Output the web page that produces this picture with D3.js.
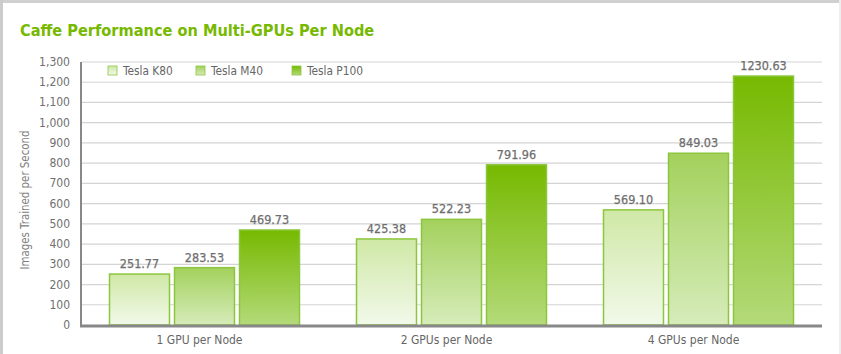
<!DOCTYPE html>
<html>
<head>
<meta charset="utf-8">
<script src="https://cdn.jsdelivr.net/npm/d3@7"></script>
<style>
  body { margin: 0; background: #fff; }
  svg { display: block; font-family: "DejaVu Sans Condensed", "Roboto", sans-serif; }
</style>
</head>
<body>
<div id="chart"></div>
<script>
// data
var groups = ["1 GPU per Node", "2 GPUs per Node", "4 GPUs per Node"];
var series = ["Tesla K80", "Tesla M40", "Tesla P100"];
var k80 = [251.77, 425.38, 569.10];
var m40 = [283.53, 522.23, 849.03];
var p100 = [469.73, 791.96, 1230.63];
var yTicks = d3.range(0, 1301, 100);

var values = [k80, m40, p100];
// gradient stops for each series (top, bottom)
var grads = [["#cfe8a6", "#f2f9ea"], ["#a3d15c", "#d6ecba"], ["#76b900", "#b4da7a"]];

var width = 841, height = 354;
var margin = {top: 62, right: 19, bottom: 29, left: 81};

var svg = d3.select("#chart").append("svg")
    .attr("width", width)
    .attr("height", height);

// frame
svg.append("rect").attr("x", 0).attr("y", 0).attr("width", width).attr("height", 3).attr("fill", "#d0d0d0");
svg.append("rect").attr("x", 0).attr("y", 0).attr("width", 3).attr("height", height).attr("fill", "#cccccc");
svg.append("rect").attr("x", width - 2).attr("y", 0).attr("width", 2).attr("height", height).attr("fill", "#eeeeee");

var defs = svg.append("defs");
grads.forEach(function(g, i) {
  var lg = defs.append("linearGradient").attr("id", "g" + i)
      .attr("x1", 0).attr("y1", 0).attr("x2", 0).attr("y2", 1);
  lg.append("stop").attr("offset", "0%").attr("stop-color", g[0]);
  lg.append("stop").attr("offset", "100%").attr("stop-color", g[1]);
});

svg.append("text")
    .attr("x", 20).attr("y", 36)
    .attr("fill", "#76b900")
    .attr("font-size", 16.2)
    .attr("font-weight", "bold")
    .text("Caffe Performance on Multi-GPUs Per Node");

var x0 = d3.scaleBand().domain(groups)
    .range([margin.left, width - margin.right]).paddingInner(0).paddingOuter(0);
var y = d3.scaleLinear().domain([0, 1300]).range([height - margin.bottom, margin.top]);

// grid
svg.append("g").selectAll("line")
  .data(yTicks.slice(1))
  .enter().append("line")
    .attr("x1", margin.left).attr("x2", width - margin.right)
    .attr("y1", function(d) { return y(d); }).attr("y2", function(d) { return y(d); })
    .attr("stroke", "#d4d4d4").attr("stroke-width", 1.2);

// y tick labels
svg.append("g").selectAll("text")
  .data(yTicks)
  .enter().append("text")
    .attr("x", 70).attr("y", function(d) { return y(d) + 4; })
    .attr("text-anchor", "end")
    .attr("fill", "#707070")
    .attr("font-size", 12)
    .text(d3.format(","));

svg.append("text")
    .attr("transform", "translate(29," + 200 + ") rotate(-90)")
    .attr("text-anchor", "middle")
    .attr("fill", "#808080")
    .attr("font-size", 11.4)
    .text("Images Trained per Second");

// bars
var barW = 60, gap = 5;
var groupW = barW * 3 + gap * 2;
function barX(gi, si) {
  return x0(groups[gi]) + (x0.bandwidth() - groupW) / 2 + si * (barW + gap);
}

series.forEach(function(s, si) {
  var g = svg.append("g");
  g.selectAll("rect")
    .data(values[si])
    .enter().append("rect")
      .attr("x", function(d, gi) { return barX(gi, si); })
      .attr("y", function(d) { return y(d); })
      .attr("width", barW)
      .attr("height", function(d) { return y(0) - y(d); })
      .attr("fill", "url(#g" + si + ")")
      .attr("stroke", "#8cc63f")
      .attr("stroke-width", 1.5);
  g.selectAll("text")
    .data(values[si])
    .enter().append("text")
      .attr("x", function(d, gi) { return barX(gi, si) + barW / 2; })
      .attr("y", function(d) { return y(d) - 6; })
      .attr("text-anchor", "middle")
      .attr("fill", "#6e6e6e")
      .attr("font-size", 12.5)
      .attr("stroke", "#6e6e6e")
      .attr("stroke-width", 0.25)
      .text(function(d) { return d.toFixed(2); });
});

// axes lines
svg.append("line")
    .attr("x1", margin.left).attr("x2", margin.left)
    .attr("y1", margin.top).attr("y2", y(0))
    .attr("stroke", "#888").attr("stroke-width", 2);
svg.append("line")
    .attr("x1", margin.left - 1).attr("x2", width - margin.right)
    .attr("y1", y(0) + 1).attr("y2", y(0) + 1)
    .attr("stroke", "#888").attr("stroke-width", 3);

// category labels
svg.append("g").selectAll("text")
  .data(groups)
  .enter().append("text")
    .attr("x", function(d) { return x0(d) + x0.bandwidth() / 2 - 5; })
    .attr("y", 344)
    .attr("text-anchor", "middle")
    .attr("fill", "#666")
    .attr("font-size", 12)
    .text(function(d) { return d; });

// legend
var legX = [108, 196, 292];
var leg = svg.append("g").selectAll("g")
  .data(series)
  .enter().append("g")
    .attr("transform", function(d, i) { return "translate(" + legX[i] + ",66)"; });
leg.append("rect")
    .attr("width", 9).attr("height", 9)
    .attr("fill", function(d, i) { return "url(#g" + i + ")"; })
    .attr("stroke", "#8cc63f").attr("stroke-width", 0.8);
leg.append("text")
    .attr("x", 15).attr("y", 9)
    .attr("fill", "#666")
    .attr("font-size", 11.8)
    .text(function(d) { return d; });
</script>
</body>
</html>
